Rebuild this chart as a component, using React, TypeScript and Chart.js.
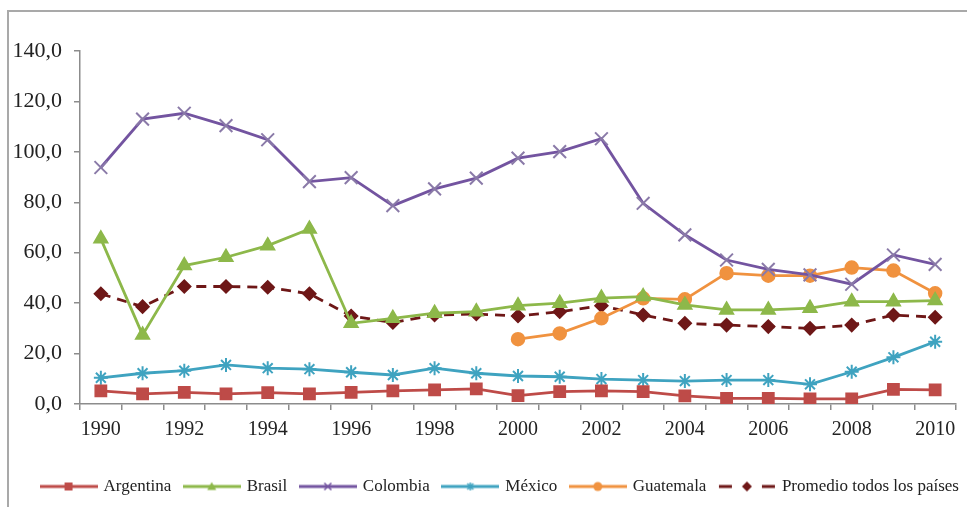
import React, { useEffect, useRef } from "react";
import { Chart, registerables } from "chart.js";

Chart.register(...registerables);

const years = ["1990","1991","1992","1993","1994","1995","1996","1997","1998","1999","2000","2001","2002","2003","2004","2005","2006","2007","2008","2009","2010"];
const argentina = [5.2, 4.0, 4.6, 4.0, 4.5, 4.0, 4.6, 5.2, 5.6, 6.0, 3.3, 4.9, 5.2, 4.9, 3.2, 2.2, 2.2, 2.0, 2.0, 5.8, 5.6];
const brasil = [65.5, 27.4, 54.9, 58.2, 62.8, 69.4, 32.0, 34.0, 36.0, 36.6, 39.0, 40.0, 42.0, 42.6, 39.3, 37.3, 37.3, 38.0, 40.6, 40.6, 41.0];
const colombia = [93.8, 113.0, 115.3, 110.4, 104.8, 88.2, 89.8, 78.7, 85.3, 89.6, 97.5, 100.1, 105.2, 79.6, 67.1, 57.1, 53.4, 51.2, 47.5, 59.1, 55.4];
const mexico = [10.4, 12.2, 13.2, 15.5, 14.2, 13.8, 12.6, 11.5, 14.2, 12.2, 11.1, 10.8, 9.9, 9.5, 9.1, 9.5, 9.5, 7.8, 12.8, 18.5, 24.7];
const guatemala = [null, null, null, null, null, null, null, null, null, null, 25.7, 28.0, 34.0, 41.9, 41.5, 51.9, 50.9, 50.9, 54.1, 52.9, 43.9];
const promedio = [43.7, 38.6, 46.6, 46.6, 46.3, 43.7, 34.9, 32.3, 35.3, 35.7, 34.9, 36.6, 39.0, 35.3, 32.0, 31.3, 30.7, 30.0, 31.3, 35.3, 34.4];
const seriesNames = ["Argentina", "Brasil", "Colombia", "México", "Guatemala", "Promedio todos los países"];
const yTickValues = [0, 20, 40, 60, 80, 100, 120, 140];

const COLORS = {
  arg: "#BE4B48",
  bra: "#8DB84A",
  col: "#7354A0",
  colMarker: "#8A7AA8",
  mex: "#3FA3C0",
  gua: "#F0923F",
  pro: "#6E1717",
};

const SERIF = "'Liberation Serif', 'Times New Roman', serif";

function makeIcon(color: string, style: string, markerColor: string, dashed: boolean, r: number) {
  const c = document.createElement("canvas");
  c.width = 58;
  c.height = 18;
  const ctx = c.getContext("2d")!;
  const cy = 9;
  ctx.strokeStyle = color;
  ctx.lineWidth = 3;
  if (dashed) {
    ctx.beginPath();
    ctx.moveTo(1, cy);
    ctx.lineTo(14, cy);
    ctx.moveTo(44, cy);
    ctx.lineTo(57, cy);
    ctx.stroke();
  } else {
    ctx.beginPath();
    ctx.moveTo(0, cy);
    ctx.lineTo(58, cy);
    ctx.stroke();
  }
  const cx = 29;
  ctx.fillStyle = markerColor;
  ctx.strokeStyle = markerColor;
  ctx.lineWidth = 1.5;
  ctx.beginPath();
  if (style === "rect") {
    ctx.fillRect(cx - r, cy - r, 2 * r, 2 * r);
  } else if (style === "triangle") {
    ctx.moveTo(cx, cy - r);
    ctx.lineTo(cx + r, cy + r * 0.8);
    ctx.lineTo(cx - r, cy + r * 0.8);
    ctx.closePath();
    ctx.fill();
  } else if (style === "crossRot") {
    ctx.moveTo(cx - r, cy - r);
    ctx.lineTo(cx + r, cy + r);
    ctx.moveTo(cx + r, cy - r);
    ctx.lineTo(cx - r, cy + r);
    ctx.stroke();
  } else if (style === "star") {
    ctx.moveTo(cx - r, cy - r);
    ctx.lineTo(cx + r, cy + r);
    ctx.moveTo(cx + r, cy - r);
    ctx.lineTo(cx - r, cy + r);
    ctx.moveTo(cx, cy - r * 1.3);
    ctx.lineTo(cx, cy + r * 1.3);
    ctx.stroke();
  } else if (style === "circle") {
    ctx.arc(cx, cy, r, 0, Math.PI * 2);
    ctx.fill();
  } else if (style === "rectRot") {
    ctx.moveTo(cx, cy - r);
    ctx.lineTo(cx + r, cy);
    ctx.lineTo(cx, cy + r);
    ctx.lineTo(cx - r, cy);
    ctx.closePath();
    ctx.fill();
  }
  return c;
}

const framePlugin = {
  id: "frame",
  beforeDraw(chart: any) {
    const ctx = chart.ctx;
    ctx.save();
    ctx.fillStyle = "#ffffff";
    ctx.fillRect(0, 0, chart.width, chart.height);
    ctx.strokeStyle = "#a9a9a9";
    ctx.lineWidth = 2;
    ctx.strokeRect(8, 11, 2000, 2000);
    ctx.restore();
  },
};

const legendShiftPlugin = {
  id: "legendShift",
  afterUpdate(chart: any) {
    const lg = chart.legend;
    if (!lg) return;
    lg.left += 22;
    lg.right += 22;
    lg.adjustHitBoxes();
  },
};

export default function App() {
  const ref = useRef<HTMLCanvasElement | null>(null);

  useEffect(() => {
    if (!ref.current) return;
    const icons = [
      makeIcon(COLORS.arg, "rect", COLORS.arg, false, 4),
      makeIcon(COLORS.bra, "triangle", COLORS.bra, false, 4.5),
      makeIcon(COLORS.col, "crossRot", COLORS.col, false, 3.5),
      makeIcon(COLORS.mex, "star", COLORS.mex, false, 3),
      makeIcon(COLORS.gua, "circle", COLORS.gua, false, 4.5),
      makeIcon(COLORS.pro, "rectRot", COLORS.pro, true, 5),
    ];
    const base = {
      borderWidth: 2.8,
      tension: 0,
      fill: false,
      pointBorderWidth: 1.5,
    };
    const chart = new Chart(ref.current, {
      type: "line",
      data: {
        labels: years,
        datasets: [
          { ...base, label: seriesNames[0], data: argentina, borderColor: COLORS.arg, backgroundColor: COLORS.arg, pointStyle: "rect", pointRadius: 8, pointBackgroundColor: COLORS.arg, pointBorderColor: COLORS.arg },
          { ...base, label: seriesNames[1], data: brasil, borderColor: COLORS.bra, backgroundColor: COLORS.bra, pointStyle: "triangle", pointRadius: 8, pointBackgroundColor: COLORS.bra, pointBorderColor: COLORS.bra },
          { ...base, label: seriesNames[2], data: colombia, borderColor: COLORS.col, backgroundColor: COLORS.col, pointStyle: "crossRot", pointRadius: 9, pointBorderWidth: 2, pointBorderColor: COLORS.colMarker },
          { ...base, label: seriesNames[3], data: mexico, borderColor: COLORS.mex, backgroundColor: COLORS.mex, pointStyle: "star", pointRadius: 7, pointBorderWidth: 2, pointBorderColor: COLORS.mex },
          { ...base, label: seriesNames[4], data: guatemala, borderColor: COLORS.gua, backgroundColor: COLORS.gua, pointStyle: "circle", pointRadius: 6.5, pointBackgroundColor: COLORS.gua, pointBorderColor: COLORS.gua },
          { ...base, label: seriesNames[5], data: promedio, borderColor: COLORS.pro, backgroundColor: COLORS.pro, borderDash: [10, 7], pointStyle: "rectRot", pointRadius: 6.5, pointBackgroundColor: COLORS.pro, pointBorderColor: COLORS.pro },
        ] as any,
      },
      options: {
        animation: false,
        responsive: false,
        maintainAspectRatio: false,
        layout: { padding: { top: 51, right: 10, left: 0, bottom: 2 } },
        plugins: {
          tooltip: { enabled: false },
          legend: {
            position: "bottom",
            labels: {
              usePointStyle: true,
              pointStyleWidth: 53,
              boxHeight: 16,
              padding: 14,
              color: "#222",
              font: { family: SERIF, size: 17 },
              generateLabels: (ch: any) =>
                ch.data.datasets.map((ds: any, i: number) => ({
                  text: ds.label,
                  pointStyle: icons[i],
                  fillStyle: "transparent",
                  strokeStyle: "transparent",
                  lineWidth: 0,
                  hidden: false,
                  datasetIndex: i,
                  fontColor: "#222",
                })),
            },
          },
        },
        scales: {
          x: {
            type: "category",
            offset: true,
            grid: { offset: true, drawOnChartArea: false, drawTicks: true, tickLength: 6, color: "#8c8c8c", lineWidth: 1.5 },
            border: { color: "#8c8c8c", width: 1.5 },
            ticks: {
              autoSkip: false,
              maxRotation: 0,
              minRotation: 0,
              padding: 8,
              color: "#222",
              font: { family: SERIF, size: 20 },
              callback: (_v: any, i: number) => (i % 2 === 0 ? years[i] : ""),
            },
            afterFit: (s: any) => {
              s.height = 60;
            },
          },
          y: {
            min: 0,
            max: 140,
            afterBuildTicks: (s: any) => {
              s.ticks = yTickValues.map((v) => ({ value: v }));
            },
            grid: { drawOnChartArea: false, drawTicks: true, tickLength: 6, color: "#8c8c8c", lineWidth: 1.5 },
            border: { color: "#8c8c8c", width: 1.5 },
            ticks: {
              padding: 12,
              color: "#222",
              font: { family: SERIF, size: 22 },
              callback: (v: any) => Number(v).toFixed(1).replace(".", ","),
            },
            afterFit: (s: any) => {
              s.width = 80;
            },
          },
        },
      } as any,
      plugins: [framePlugin, legendShiftPlugin],
    });
    return () => chart.destroy();
  }, []);

  return (
    <div style={{ position: "fixed", left: 0, top: 0, width: 967, height: 507, background: "#fff" }}>
      <canvas ref={ref} width={967} height={507} style={{ width: 967, height: 507, display: "block" }} />
    </div>
  );
}
